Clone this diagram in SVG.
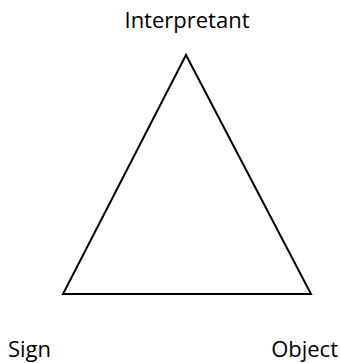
<svg xmlns="http://www.w3.org/2000/svg" width="340" height="363" viewBox="0 0 340 363">
<style>
.lbl{font-family:"Open Sans","Noto Sans",sans-serif;font-size:22px;fill:#000}
.edge{fill:none;stroke:#000;stroke-width:2;stroke-linejoin:miter}
</style>
<rect width="340" height="363" fill="#fff"/>
<g id="connectors">
<polygon class="edge" points="186,55 63,294 311,294"/>
</g>
<g id="interpretant"><text class="lbl" x="187" y="28" text-anchor="middle">Interpretant</text></g>
<g id="sign"><text class="lbl" x="8" y="357">Sign</text></g>
<g id="object"><text class="lbl" x="338" y="357" text-anchor="end">Object</text></g>
</svg>
